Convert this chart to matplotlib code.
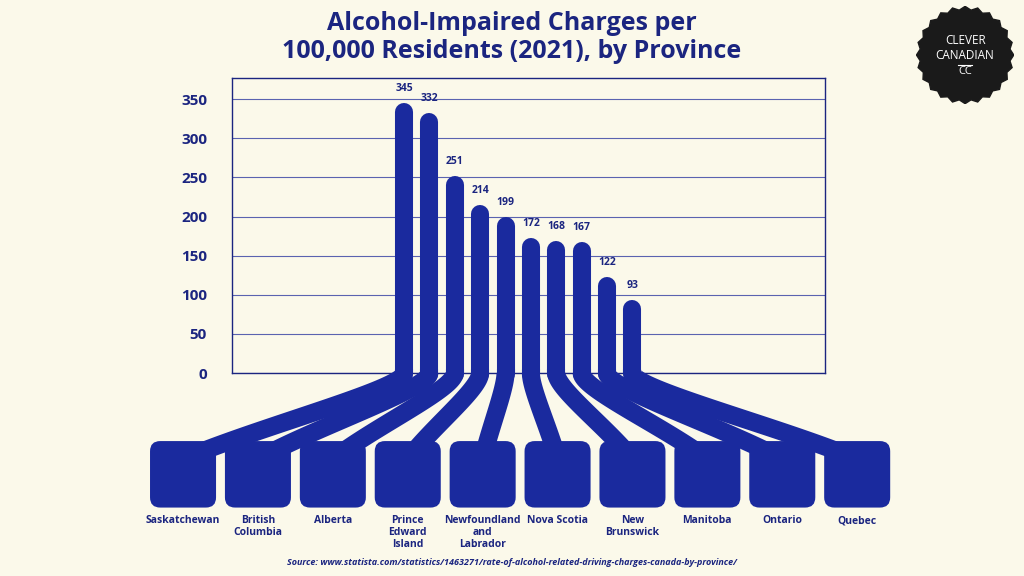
import numpy as np
import matplotlib.pyplot as plt
from matplotlib.patches import FancyBboxPatch

provinces = ["Saskatchewan", "British\nColumbia", "Alberta", "Prince\nEdward\nIsland",
             "Newfoundland\nand\nLabrador", "Nova Scotia", "New\nBrunswick", "Manitoba",
             "Ontario", "Quebec"]
values = [345, 332, 251, 214, 199, 172, 168, 167, 122, 93]
yticks = [0, 50, 100, 150, 200, 250, 300, 350]

navy = "#1b2580"
blue = "#1a2a9e"
bg = "#fbf9ea"
plt.rcParams["font.family"] = "Open Sans"

fig = plt.figure(figsize=(10.24, 5.76), dpi=100, facecolor=bg)
ax = fig.add_axes([0.2266, 0.3524, 0.579, 0.512], facecolor=bg)
ax.set_xlim(-6.77, 16.58)
ax.set_ylim(0, 377)

for s in ax.spines.values():
    s.set_color(navy)
    s.set_linewidth(1)
ax.set_yticks(yticks)
ax.set_yticklabels([str(t) for t in yticks], fontweight="bold", color=navy, fontsize=11)
ax.tick_params(axis="y", length=0, pad=18)
ax.set_xticks([])
ax.yaxis.grid(True, color="#5a63b0", linewidth=0.8)
ax.set_axisbelow(True)

aspect = 25.4 / 0.783
t = np.linspace(0, 1, 60)
for i, (name, v) in enumerate(zip(provinces, values)):
    xi = i
    bi = -8.7 + 2.95 * i
    # ribbon from the box up to the bar base
    p0 = np.array([bi, -110]); p1 = np.array([bi + 0.35 * (xi - bi), -68])
    p2 = np.array([xi, -20]); p3 = np.array([xi, 0])
    c = ((1 - t) ** 3)[:, None] * p0 + (3 * (1 - t) ** 2 * t)[:, None] * p1 \
        + (3 * (1 - t) * t ** 2)[:, None] * p2 + (t ** 3)[:, None] * p3
    ax.plot(c[:, 0], c[:, 1], color=blue, lw=13, solid_capstyle="butt",
            solid_joinstyle="round", clip_on=False, zorder=3)
    # bar with rounded top
    ax.plot([xi, xi], [-1, v - 11], color=blue, lw=13, solid_capstyle="round",
            clip_on=False, zorder=3)
    ax.plot([xi, xi], [-1, 5], color=blue, lw=13, solid_capstyle="butt",
            clip_on=False, zorder=4)
    box = FancyBboxPatch((bi - 1.3, -172), 2.6, 85,
                         boxstyle="round,pad=0,rounding_size=0.4",
                         mutation_aspect=aspect, fc=blue, ec="none",
                         clip_on=False, zorder=2)
    ax.add_patch(box)
    ax.text(xi, v + 12, str(v), ha="center", va="bottom", fontsize=7.5,
            fontweight="bold", color=navy)
    ax.text(bi, -182, name, ha="center", va="top", fontsize=7.5,
            fontweight="bold", color=navy, linespacing=1.1, clip_on=False)

fig.text(0.5, 0.935, "Alcohol-Impaired Charges per\n100,000 Residents (2021), by Province",
         ha="center", va="center", fontsize=18, fontweight="bold", color=navy,
         linespacing=1.15)
fig.text(0.5, 0.016,
         "Source: www.statista.com/statistics/1463271/rate-of-alcohol-related-driving-charges-canada-by-province/",
         ha="center", va="bottom", fontsize=6.5, style="italic", fontweight="bold", color=navy)

# logo
lax = fig.add_axes([0.895, 0.82, 0.095, 0.169])
lax.set_xlim(-1, 1); lax.set_ylim(-1, 1); lax.set_aspect("equal"); lax.axis("off")
ang = np.linspace(0, 2 * np.pi, 49)
r = np.where(np.arange(49) % 2 == 0, 1.0, 0.93)
lax.fill(r * np.cos(ang), r * np.sin(ang), color="#1a1a1a")
lax.text(0, 0.3, "CLEVER", ha="center", va="center", color="white", fontsize=8.5)
lax.text(0, 0.0, "CANADIAN", ha="center", va="center", color="white", fontsize=8.5)
lax.text(0, -0.33, "CC", ha="center", va="center", color="white", fontsize=8)
lax.plot([-0.15, 0.15], [-0.2, -0.2], color="white", lw=0.8)

fig.savefig("out.png", dpi=100, facecolor=bg)
